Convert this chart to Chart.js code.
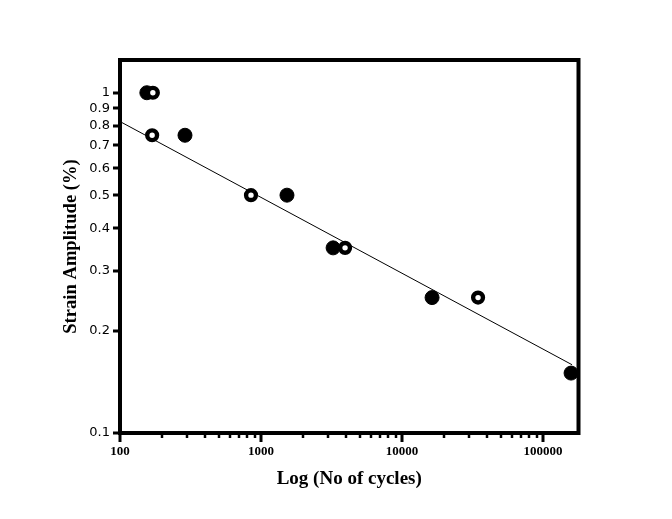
<!DOCTYPE html>
<html>
<head>
<meta charset="utf-8">
<script src="https://cdn.jsdelivr.net/npm/chart.js@4/dist/chart.umd.min.js"></script>
<style>
  html, body { margin: 0; padding: 0; background: #fff; }
  #wrap { width: 672px; height: 519px; }
</style>
</head>
<body>
<div id="wrap"><canvas id="c" width="672" height="519"></canvas></div>
<script>
// Data
const filledCycles = [155, 289, 1528, 3245, 16330, 158000];
const filledStrain = [1.0, 0.75, 0.5, 0.35, 0.25, 0.15];
const openCycles = [171, 169, 849, 3945, 34600];
const openStrain = [1.0, 0.75, 0.5, 0.35, 0.25];
const fitCycles = [100, 160600];
const fitStrain = [0.823, 0.1587];

const xTickValues = [100, 1000, 10000, 100000];
const xMinorTicks = [200, 300, 400, 500, 600, 700, 800, 900,
                     2000, 3000, 4000, 5000, 6000, 7000, 8000, 9000,
                     20000, 30000, 40000, 50000, 60000, 70000, 80000, 90000];
const yTickValues = [0.1, 0.2, 0.3, 0.4, 0.5, 0.6, 0.7, 0.8, 0.9, 1];

const toPts = (xs, ys) => xs.map((x, i) => ({ x: x, y: ys[i] }));

const framePlugin = {
  id: 'frame',
  afterDraw(chart) {
    const ctx = chart.ctx;
    const a = chart.chartArea;
    const xs = chart.scales.x, ys = chart.scales.y;
    ctx.save();
    ctx.strokeStyle = '#000';
    ctx.lineCap = 'butt';
    // y major ticks
    ctx.lineWidth = 3;
    yTickValues.forEach(v => {
      const y = Math.round(ys.getPixelForValue(v));
      ctx.beginPath(); ctx.moveTo(a.left - 7, y); ctx.lineTo(a.left, y); ctx.stroke();
    });
    // x major ticks
    xTickValues.forEach(v => {
      const x = Math.round(xs.getPixelForValue(v));
      ctx.beginPath(); ctx.moveTo(x, a.bottom); ctx.lineTo(x, a.bottom + 9); ctx.stroke();
    });
    // x minor ticks
    ctx.lineWidth = 2.5;
    xMinorTicks.forEach(v => {
      const x = Math.round(xs.getPixelForValue(v));
      if (x > a.right) return;
      ctx.beginPath(); ctx.moveTo(x, a.bottom); ctx.lineTo(x, a.bottom + 5); ctx.stroke();
    });
    // frame
    ctx.lineWidth = 4;
    ctx.strokeRect(a.left, a.top, a.right - a.left, a.bottom - a.top);
    ctx.restore();
  }
};

new Chart(document.getElementById('c'), {
  type: 'scatter',
  data: {
    datasets: [
      {
        label: 'open',
        data: toPts(openCycles, openStrain),
        pointRadius: 4.9,
        pointBorderWidth: 4.4,
        pointBackgroundColor: '#fff',
        pointBorderColor: '#000',
        order: 1
      },
      {
        label: 'filled',
        data: toPts(filledCycles, filledStrain),
        pointRadius: 7,
        pointBorderWidth: 1,
        pointBackgroundColor: '#000',
        pointBorderColor: '#000',
        order: 2
      },
      {
        type: 'line',
        label: 'fit',
        data: toPts(fitCycles, fitStrain),
        borderColor: '#000',
        borderWidth: 1,
        pointRadius: 0,
        fill: false,
        order: 3
      }
    ]
  },
  options: {
    responsive: false,
    animation: false,
    devicePixelRatio: 1,
    clip: false,
    layout: { padding: { left: 60, top: 60, right: 93.5, bottom: 29 } },
    plugins: { legend: { display: false }, tooltip: { enabled: false } },
    scales: {
      x: {
        type: 'logarithmic',
        min: 100,
        max: 178400,
        grid: { display: false, drawTicks: false },
        border: { display: false },
        afterBuildTicks: s => { s.ticks = xTickValues.map(v => ({ value: v })); },
        afterFit: s => { s.height = 57; },
        ticks: {
          autoSkip: false,
          maxRotation: 0,
          padding: 11,
          color: '#000',
          font: { family: 'Liberation Serif', size: 13, weight: 'bold' },
          callback: v => String(v)
        },
        title: {
          display: true,
          text: 'Log (No of cycles)',
          color: '#000',
          padding: 0,
          font: { family: 'Liberation Serif', size: 19, weight: 'bold' }
        }
      },
      y: {
        type: 'logarithmic',
        min: 0.1,
        max: 1.248,
        grid: { display: false, drawTicks: false },
        border: { display: false },
        afterBuildTicks: s => { s.ticks = yTickValues.map(v => ({ value: v })); },
        afterFit: s => { s.width = 60; },
        ticks: {
          autoSkip: false,
          padding: 10,
          color: '#000',
          font: { family: 'DejaVu Sans', size: 13 },
          callback: v => String(v)
        },
        title: {
          display: true,
          text: 'Strain Amplitude (%)',
          color: '#000',
          padding: 0,
          font: { family: 'Liberation Serif', size: 18.6, weight: 'bold' }
        }
      }
    }
  },
  plugins: [framePlugin]
});
</script>
</body>
</html>
